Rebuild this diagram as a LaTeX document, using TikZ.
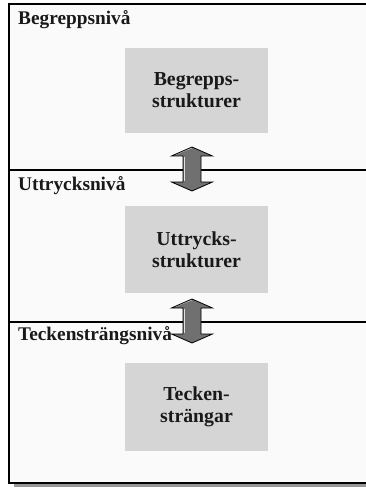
\documentclass[tikz,border=0pt]{standalone}
\usepackage{fontspec}
\setmainfont{Liberation Serif}
\definecolor{boxgray}{RGB}{213,213,213}
\definecolor{arrgray}{RGB}{112,112,112}
\definecolor{shadowgray}{RGB}{150,150,150}
\definecolor{txt}{RGB}{25,25,25}
\begin{document}
\begin{tikzpicture}[x=1pt,y=-1pt,
  levelbox/.style={fill=boxgray, minimum width=143pt, inner sep=0pt, align=center,
     font=\fontsize{19.8}{22}\selectfont\bfseries, text=txt},
  levellabel/.style={anchor=base west, inner sep=0pt, font=\fontsize{19.3}{22}\selectfont\bfseries, text=txt},
  pics/dblarrow/.style={code={
    \fill[arrgray] (0,-22) -- (20.5,-13) -- (9,-13) -- (9,13) -- (20.5,13) -- (0,22)
      -- (-20.5,13) -- (-9,13) -- (-9,-13) -- (-20.5,-13) -- cycle;
    \draw[gray!25, line width=1.5pt] (-7.5,-12) -- (-7.5,12);
    \draw[gray!35, line width=1pt] (-19,-13.6) -- (0,-21.3);
    \draw[black, line width=0.8pt] (0,-22) -- (20.5,-13) -- (9,-13) -- (9,13) -- (20.5,13) -- (0,22)
      -- (-20.5,13) -- (-9,13) -- (-9,-13) -- (-20.5,-13) -- cycle;
  }}]
\useasboundingbox (0,0) rectangle (366,489);
\clip (0,0) rectangle (366,489);
\fill[white!98!black] (9,4) rectangle (372,483);
\fill[shadowgray] (14,483) rectangle (372,487);
\draw[line width=2pt] (9,4) rectangle (372,483);
\draw[line width=2pt] (9,170) -- (372,170);
\draw[line width=2pt] (9,322) -- (372,322);

\node[levellabel] (l1) at (18,25) {Begreppsnivå};
\node[levellabel] (l2) at (18,190) {Uttrycksnivå};

\node[levelbox, minimum height=85pt] (b1) at (196.5,90.5) {Begrepps-\\strukturer};
\node[levelbox, minimum height=87pt] (b2) at (196.5,249.5) {Uttrycks-\\strukturer};
\node[levelbox, minimum height=88pt] (b3) at (196.5,407) {Tecken-\\strängar};

\pic (a1) at (192,169) {dblarrow};
\pic (a2) at (192,321) {dblarrow};
\node[levellabel] (l3) at (18,340) {Teckensträngsnivå};
\end{tikzpicture}
\end{document}
